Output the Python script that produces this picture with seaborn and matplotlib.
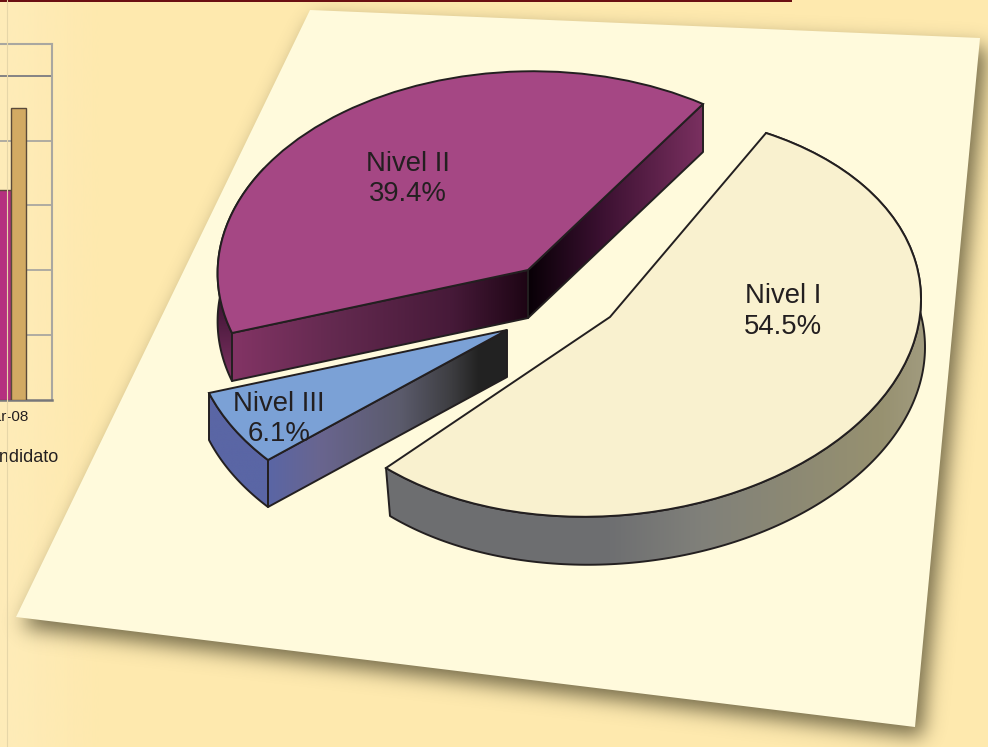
import numpy as np
import pandas as pd
import matplotlib
matplotlib.use("Agg")
import matplotlib.pyplot as plt
import seaborn as sns
from matplotlib.colors import LinearSegmentedColormap, to_rgb
from matplotlib.patches import Polygon, Rectangle
from matplotlib.path import Path
from matplotlib.transforms import Transform

# ---- data ----
levels = ["Nivel I", "Nivel III", "Nivel II"]
shares = [54.5, 6.1, 39.4]
face_colors = ["#f9f1cf", "#7ba1d6", "#a54784"]
bar_series = ["Serie A", "Serie B"]
bar_months = ["Mar-08", "Mar-08"]
bar_values = [3.24, 4.5]
bar_colors = ["#b5307f", "#d2aa63"]
grid_ticks = [1, 2, 3, 4, 5]

# ---- layout (pixels) ----
W, H = 988, 747
INK = "#231f20"
apex = {"Nivel I": (610, 317), "Nivel III": (507, 330), "Nivel II": (528, 270)}
rim_start = {"Nivel I": (766, 133), "Nivel III": (268, 460), "Nivel II": (232, 333)}
rim_end = {"Nivel I": (386, 468), "Nivel III": (209, 393), "Nivel II": (703, 104)}
# points the perspective of the sheet makes the rim pass through
rim_guides = {
    "Nivel I": [(827, 157), (880, 200), (917, 263), (920, 293), (893, 383), (837, 440),
                (800, 463), (583, 517), (480, 508), (413, 483)],
    "Nivel III": [],
    "Nivel II": [],
}
depth = {"Nivel I": (4, 48), "Nivel III": (0, 47), "Nivel II": (0, 48)}
base_z = {"Nivel II": 10, "Nivel III": 20, "Nivel I": 30}
label_pos = {"Nivel I": (783, 311.5), "Nivel III": (279, 419), "Nivel II": (408, 179)}
paper = np.array([(310, 10), (980, 38), (915, 727), (16, 617)], float)

sns.set_theme(style="white")
plt.rcParams["font.family"] = ["Liberation Sans", "DejaVu Sans"]

fig = plt.figure(figsize=(W / 100, H / 100), dpi=100, facecolor="#fee9ae")
ax = fig.add_axes([0, 0, 1, 1])

# the pie itself: unit-circle wedges from the shares, then projected per wedge
wedges, _ = ax.pie(shares, startangle=0, counterclock=True, radius=1, center=(0, 0),
                   colors=face_colors, wedgeprops=dict(edgecolor=INK, linewidth=1.4))
ax.set_aspect("auto")


class Projection(Transform):
    """Projective map of the unit-circle pie onto the tilted sheet."""
    input_dims = output_dims = 2
    is_affine = False
    has_inverse = False

    def __init__(self, A, origin, g, h):
        super().__init__()
        self.A, self.origin, self.g, self.h = A, origin, g, h

    def transform_non_affine(self, values):
        v = np.asarray(values, float)
        den = 1 + self.g * v[:, 0] + self.h * v[:, 1]
        return (self.A @ v.T).T / den[:, None] + self.origin


def solve(name, t1, t2, g, h):
    a = np.array(apex[name], float)
    U = np.array([[np.cos(t1), np.cos(t2)], [np.sin(t1), np.sin(t2)]])
    V = np.column_stack([np.array(rim_start[name]) - a, np.array(rim_end[name]) - a])
    V = V * (1 + g * U[0] + h * U[1])
    return V @ np.linalg.inv(U), a


def rim_points(name, t1, t2, g, h, n=200):
    A, a = solve(name, t1, t2, g, h)
    ts = np.linspace(t1, t2, n)
    u = np.c_[np.cos(ts), np.sin(ts)]
    return Projection(A, a, g, h).transform_non_affine(u)


def fit_perspective(name, t1, t2):
    guides = np.array(rim_guides[name], float).reshape(-1, 2)
    if len(guides) == 0:
        return 0.0, 0.0

    def err(g, h):
        r = rim_points(name, t1, t2, g, h, 300)
        return ((guides[:, None, :] - r[None, :, :]) ** 2).sum(-1).min(1).sum()

    g0, h0, span = 0.0, 0.0, 0.3
    for _ in range(6):
        grid = [(err(g, h), g, h)
                for g in np.linspace(g0 - span, g0 + span, 13)
                for h in np.linspace(h0 - span, h0 + span, 13)]
        _, g0, h0 = min(grid)
        span /= 3
    return g0, h0


def gradient(points, stops, axis="x", z=1):
    lo, hi = stops[0][0], stops[-1][0]
    cmap = LinearSegmentedColormap.from_list(
        "g", [((p - lo) / (hi - lo), c) for p, c in stops])
    pts = np.asarray(points)
    ramp = np.linspace(0, 1, 512)
    if axis == "x":
        img, ext = ramp[None, :], (lo, hi, pts[:, 1].max() + 2, pts[:, 1].min() - 2)
    else:
        img, ext = ramp[:, None], (pts[:, 0].min() - 2, pts[:, 0].max() + 2, hi, lo)
    im = ax.imshow(img, cmap=cmap, vmin=0, vmax=1, extent=ext, origin="upper",
                   aspect="auto", zorder=z, interpolation="bilinear")
    clip = Polygon(pts, closed=True, transform=ax.transData)
    im.set_clip_path(clip)
    ax.add_patch(Polygon(pts, closed=True, fc="none", ec=INK, lw=1.4, zorder=z + 0.1,
                         joinstyle="round"))


# page background
ax.imshow(np.linspace(0, 1, 256)[None, :],
          cmap=LinearSegmentedColormap.from_list("p", ["#feecb9", "#fee9ae"]),
          extent=(0, 100, H, 0), aspect="auto", zorder=0)
ax.add_patch(Rectangle((100, 0), W - 100, H, fc="#fee9ae", ec="none", zorder=0))

# blurred shadow of the sheet (padded so the blur does not wrap round)
yy, xx = np.mgrid[0:H, 0:W]
inside = Path(paper + (6, 10)).contains_points(
    np.c_[xx.ravel() + 0.5, yy.ravel() + 0.5]).reshape(H, W).astype(float)
PAD = 80
fy = np.fft.fftfreq(H + PAD)[:, None]
fx = np.fft.rfftfreq(W + PAD)[None, :]
sigma = 10.0
blur = np.fft.irfft2(np.fft.rfft2(inside, s=(H + PAD, W + PAD))
                     * np.exp(-2 * (np.pi * sigma) ** 2 * (fx**2 + fy**2)),
                     s=(H + PAD, W + PAD))[:H, :W]
rgba = np.zeros((H, W, 4))
rgba[..., :3] = to_rgb("#3f3a22")
rgba[..., 3] = np.clip(blur, 0, 1) * 0.72
ax.imshow(rgba, extent=(0, W, H, 0), aspect="auto", zorder=1)
ax.add_patch(Polygon(paper, closed=True, fc="#fffadc", ec="none", zorder=2))

# top rule
ax.add_patch(Rectangle((0, 0), 792, 2, fc="#6b0f12", ec="none", zorder=3))

# wedges
wedge_by_name = dict(zip(levels, wedges))
rim = {}
for name in levels:
    w = wedge_by_name[name]
    t1, t2 = np.radians(w.theta1), np.radians(w.theta2)
    g, h = fit_perspective(name, t1, t2)
    A, a = solve(name, t1, t2, g, h)
    w.set_transform(Projection(A, a, g, h) + ax.transData)
    w.set_zorder(base_z[name] + 5)
    rim[name] = rim_points(name, t1, t2, g, h)


def side(p, q, d):
    p, q = np.array(p, float), np.array(q, float)
    return np.array([p, q, q + d, p + d])


def band(arc, d):
    return np.vstack([arc, (arc + d)[::-1]])


# Nivel II
d = np.array(depth["Nivel II"])
z = base_z["Nivel II"]
gradient(band(rim["Nivel II"][:70], d), [(265, "#30102a"), (300, "#3e1434"), (382, "#803364")],
         axis="y", z=z)
gradient(side(apex["Nivel II"], rim_end["Nivel II"], d),
         [(528, "#080006"), (600, "#3a1030"), (703, "#7a3060")], z=z + 1)
gradient(side(rim_start["Nivel II"], apex["Nivel II"], d),
         [(232, "#833465"), (330, "#642a50"), (450, "#471a39"), (528, "#1d0514")], z=z + 2)

# Nivel III
d = np.array(depth["Nivel III"])
z = base_z["Nivel III"]
gradient(band(rim["Nivel III"], d), [(205, "#5a66a5"), (270, "#5a66a5")], z=z)
gradient(side(rim_start["Nivel III"], apex["Nivel III"], d),
         [(268, "#5a66a5"), (320, "#69658f"), (400, "#5b5b6c"), (450, "#3e3e42"),
          (478, "#222222"), (507, "#232323")], z=z + 1)

# Nivel I
d = np.array(depth["Nivel I"])
z = base_z["Nivel I"]
gradient(band(rim["Nivel I"], d),
         [(380, "#6d6e70"), (610, "#6e6f71"), (700, "#80807a"), (790, "#8c8974"),
          (880, "#979170"), (930, "#a29c80")], z=z)

# slice labels
for name, share in zip(levels, shares):
    x, y = label_pos[name]
    ax.text(x, y, f"{name}\n{share}%", ha="center", va="center", fontsize=19.8,
            color=INK, linespacing=1.24, zorder=50)

ax.text(58, 457, "Candidato", ha="right", va="center", fontsize=13, color=INK, zorder=3)
ax.set_xlim(0, W)
ax.set_ylim(H, 0)
ax.set_axis_off()

# fragment of the neighbouring bar chart (runs off the page)
bx = fig.add_axes([-30 / W, (H - 400) / H, 82 / W, 356 / H], zorder=2)
bars = pd.DataFrame({"mes": bar_months, "serie": bar_series, "valor": bar_values})
sns.barplot(data=bars, x="mes", y="valor", hue="serie", palette=bar_colors, width=0.37, gap=0,
            saturation=1, edgecolor="#5a4a3a", linewidth=1.0, legend=False, ax=bx, zorder=3)
bx.patch.set_alpha(0)
bx.set_ylim(0, 5.49)
bx.set_xlim(-0.5, 0.5)
bx.set_xticks([-0.073], [bar_months[0]])
bx.set_yticks(grid_ticks)
bx.set_yticklabels([])
bx.set_xlabel("")
bx.set_ylabel("")
bx.grid(axis="y", color="#a9a7a0", lw=1.3)
bx.grid(axis="x", visible=False)
bx.set_axisbelow(True)
bx.get_ygridlines()[-1].set_color("#7b7b80")
bx.tick_params(axis="both", length=0, labelsize=11, colors=INK, pad=7)
for s, c, lw in [("left", "none", 0), ("top", "#a9a7a0", 1.5), ("right", "#a9a7a0", 1.5),
                 ("bottom", "#77777a", 1.8)]:
    bx.spines[s].set_visible(lw > 0)
    bx.spines[s].set_color(c)
    bx.spines[s].set_linewidth(lw)

fig.add_artist(plt.Line2D([6.5 / W, 6.5 / W], [0, 1], color="#e6d6a8", lw=0.8, zorder=5))
fig.savefig("out.png", dpi=100, facecolor=fig.get_facecolor())
